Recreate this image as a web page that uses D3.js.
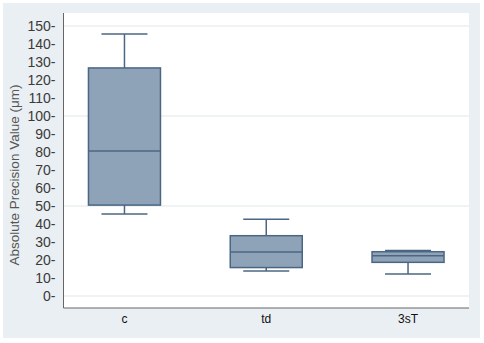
<!DOCTYPE html>
<html>
<head>
<meta charset="utf-8">
<script src="https://cdn.jsdelivr.net/npm/d3@7"></script>
<style>
  body { margin: 0; background: #fff; }
  svg text { font-family: "Liberation Sans", Arial, sans-serif; }
</style>
</head>
<body>
<svg id="chart" width="484" height="343"></svg>
<script>
// box plot summaries
const groups = ["c", "td", "3sT"];
const whiskerLow = [45.5, 13.9, 12.2];
const q1 = [50.5, 15.8, 18.7];
const median = [80.5, 24.4, 22.3];
const q3 = [126.7, 33.5, 24.6];
const whiskerHigh = [145.5, 42.6, 25.3];
const yTicks = [0, 10, 20, 30, 40, 50, 60, 70, 80, 90, 100, 110, 120, 130, 140, 150];
const gridValues = [0, 50, 100, 150];

const svg = d3.select("#chart");
const plot = { left: 63.5, right: 469, top: 13, bottom: 308 };

// outer panel and white plot region
svg.append("rect")
    .attr("x", 3).attr("y", 3)
    .attr("width", 477).attr("height", 335)
    .attr("fill", "#e9eff2");
svg.append("rect")
    .attr("x", plot.left).attr("y", plot.top)
    .attr("width", plot.right - plot.left).attr("height", plot.bottom - plot.top)
    .attr("fill", "#ffffff");

// scales
const y = d3.scaleLinear().domain([0, 150]).range([296, 26]);
const x = d3.scalePoint().domain(groups).range([plot.left, plot.right]).padding(0.43);
const boxW = 72, capW = 46;

// gridlines
svg.append("g").selectAll("line")
    .data(gridValues)
    .join("line")
    .attr("x1", plot.left).attr("x2", plot.right)
    .attr("y1", d => y(d)).attr("y2", d => y(d))
    .attr("stroke", "#eaeff1")
    .attr("stroke-width", 1.5);

// boxes
const rows = groups.map((g, i) => ({
    g, lo: whiskerLow[i], q1: q1[i], med: median[i], q3: q3[i], hi: whiskerHigh[i]
}));
const stroke = "#4b6683";
const boxes = svg.append("g").selectAll("g")
    .data(rows)
    .join("g")
    .attr("transform", d => `translate(${x(d.g)},0)`);

// whiskers
boxes.append("line")
    .attr("x1", 0).attr("x2", 0)
    .attr("y1", d => y(d.hi)).attr("y2", d => y(d.q3))
    .attr("stroke", stroke).attr("stroke-width", 1.5);
boxes.append("line")
    .attr("x1", 0).attr("x2", 0)
    .attr("y1", d => y(d.q1)).attr("y2", d => y(d.lo))
    .attr("stroke", stroke).attr("stroke-width", 1.5);
boxes.append("line")
    .attr("x1", -capW / 2).attr("x2", capW / 2)
    .attr("y1", d => y(d.hi)).attr("y2", d => y(d.hi))
    .attr("stroke", stroke).attr("stroke-width", 1.5);
boxes.append("line")
    .attr("x1", -capW / 2).attr("x2", capW / 2)
    .attr("y1", d => y(d.lo)).attr("y2", d => y(d.lo))
    .attr("stroke", stroke).attr("stroke-width", 1.5);

// the box itself and the median
boxes.append("rect")
    .attr("x", -boxW / 2).attr("width", boxW)
    .attr("y", d => y(d.q3))
    .attr("height", d => y(d.q1) - y(d.q3))
    .attr("fill", "#8fa3b8")
    .attr("stroke", stroke).attr("stroke-width", 1.5);
boxes.append("line")
    .attr("x1", -boxW / 2).attr("x2", boxW / 2)
    .attr("y1", d => y(d.med)).attr("y2", d => y(d.med))
    .attr("stroke", stroke).attr("stroke-width", 1.5);

// y axis
const yAxis = d3.axisLeft(y)
    .tickValues(yTicks)
    .tickSize(0)
    .tickPadding(8)
    .tickFormat(d => d + "-");
svg.append("g")
    .attr("transform", `translate(${plot.left},0)`)
    .call(yAxis)
    .call(g => g.select(".domain").remove())
    .selectAll("text")
    .attr("fill", "#3a3a3a")
    .style("font-size", "14px");

// axis lines
svg.append("line")
    .attr("x1", plot.left).attr("x2", plot.left)
    .attr("y1", plot.top).attr("y2", plot.bottom)
    .attr("stroke", "#666").attr("stroke-width", 1);
svg.append("line")
    .attr("x1", plot.left).attr("x2", plot.right)
    .attr("y1", plot.bottom).attr("y2", plot.bottom)
    .attr("stroke", "#666").attr("stroke-width", 1);

// x labels
svg.append("g").selectAll("text")
    .data(groups)
    .join("text")
    .attr("x", d => x(d))
    .attr("y", 323)
    .attr("text-anchor", "middle")
    .attr("fill", "#111")
    .style("font-size", "12px")
    .style("font-weight", "500")
    .text(d => d);

// y title
svg.append("text")
    .attr("transform", "translate(19,175) rotate(-90)")
    .attr("text-anchor", "middle")
    .attr("fill", "#555")
    .style("font-size", "13.5px")
    .text("Absolute Precision Value (μm)");
</script>
</body>
</html>
